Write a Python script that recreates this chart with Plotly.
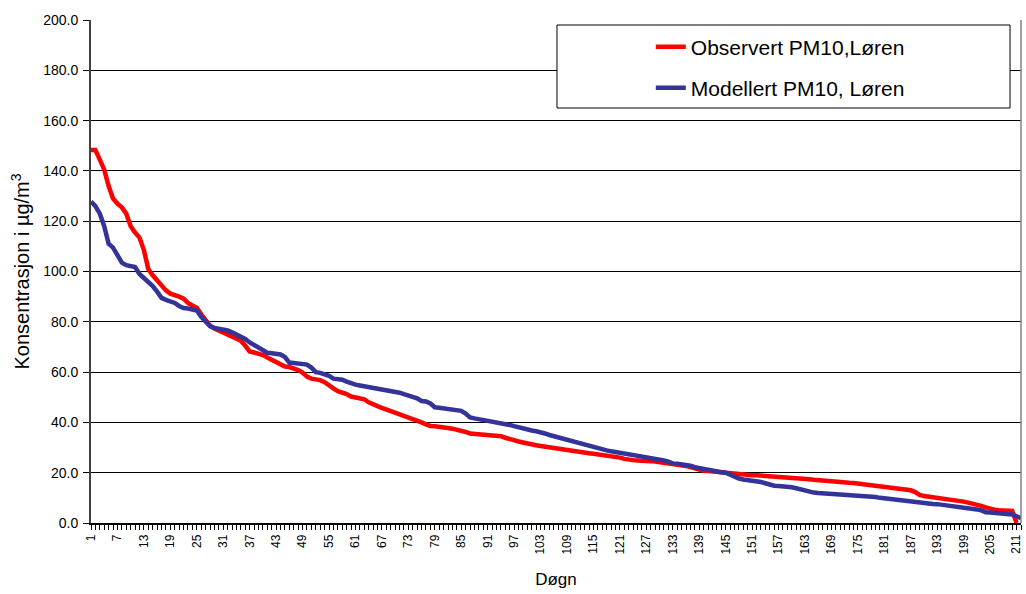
import plotly.graph_objects as go

# Day index (sorted duration curve), 1..212
days = list(range(1, 213))

# Observed PM10 at Løren, sorted descending (µg/m3)
observed = [
    148.3, 148.3, 144.5, 140.5, 134.0, 129.0, 127.0, 125.5, 123.0, 118.0,
    115.5, 113.5, 108.5, 101.0, 98.5, 96.3, 94.6, 92.5, 91.2, 90.8,
    90.0, 89.2, 87.5, 86.5, 85.6, 83.0, 80.5, 78.5, 77.3, 76.5,
    75.8, 75.0, 74.3, 73.5, 72.5, 70.5, 68.2, 67.8, 67.5, 66.8,
    65.8, 65.0, 64.2, 63.4, 62.2, 62.0, 61.6, 60.8, 59.8, 58.2,
    57.4, 57.2, 56.8, 56.0, 55.0, 53.5, 52.4, 51.9, 51.3, 50.3,
    49.8, 49.5, 49.2, 48.0, 47.0, 46.5, 45.8, 45.2, 44.6, 44.0,
    43.3, 42.7, 41.8, 41.2, 40.6, 40.0, 39.2, 38.6, 38.5, 38.4,
    38.2, 37.8, 37.5, 37.2, 36.8, 36.2, 35.6, 35.4, 35.3, 35.2,
    35.1, 35.0, 34.8, 34.5, 33.9, 33.3, 32.8, 32.4, 32.0, 31.5,
    31.2, 30.9, 30.6, 30.3, 30.1, 29.8, 29.5, 29.1, 28.8, 28.6,
    28.4, 28.1, 27.9, 27.7, 27.5, 27.3, 27.0, 26.7, 26.4, 26.2,
    26.0, 25.5, 25.1, 25.0, 24.9, 24.9, 24.8, 24.6, 24.4, 24.2,
    24.0, 23.8, 23.4, 23.2, 23.0, 22.7, 22.2, 21.7, 21.2, 20.8,
    20.7, 20.5, 20.4, 20.3, 20.1, 19.9, 19.7, 19.5, 19.3, 19.1,
    19.0, 19.0, 18.9, 18.8, 18.7, 18.6, 18.5, 18.3, 18.1, 18.0,
    17.9, 17.7, 17.5, 17.4, 17.2, 17.0, 16.8, 16.6, 16.4, 16.3,
    16.3, 16.1, 16.0, 15.9, 15.7, 15.5, 15.3, 15.1, 14.9, 14.7,
    14.5, 14.2, 14.0, 13.8, 13.5, 13.3, 13.0, 12.3, 11.2, 10.7,
    10.5, 10.3, 10.1, 9.9, 9.6, 9.3, 9.1, 8.9, 8.5, 8.1,
    7.8, 7.4, 6.8, 6.2, 5.6, 5.3, 5.1, 5.0, 4.9, 4.8,
    0.0, None,
]

# Modelled PM10 at Løren, sorted descending (µg/m3)
modelled = [
    127.8, 126.0, 123.0, 118.0, 111.0, 109.5, 106.5, 103.5, 102.5, 102.2,
    101.8, 99.0, 97.5, 95.5, 94.2, 92.0, 89.5, 88.7, 88.2, 87.5,
    86.3, 85.5, 85.3, 85.0, 84.5, 82.0, 80.0, 78.3, 77.5, 77.2,
    76.9, 76.6, 75.8, 75.0, 74.0, 73.2, 71.8, 70.8, 69.5, 68.3,
    67.7, 67.5, 67.2, 67.0, 66.0, 63.8, 63.6, 63.4, 63.2, 63.0,
    61.8, 60.0, 59.7, 59.3, 58.5, 57.4, 57.2, 57.0, 56.2, 55.4,
    55.0, 54.7, 54.4, 54.2, 53.9, 53.6, 53.3, 53.0, 52.8, 52.3,
    51.8, 51.2, 50.7, 50.2, 49.6, 48.5, 48.3, 47.5, 46.0, 45.8,
    45.6, 45.4, 45.1, 44.8, 44.6, 43.5, 42.0, 41.6, 41.3, 41.1,
    40.8, 40.5, 40.2, 39.8, 39.4, 39.0, 38.5, 38.0, 37.6, 37.2,
    36.8, 36.5, 36.2, 35.6, 35.0, 34.5, 34.1, 33.6, 33.0, 32.6,
    32.2, 31.8, 31.2, 30.7, 30.2, 29.8, 29.4, 28.9, 28.5, 28.2,
    28.0, 27.7, 27.4, 27.3, 27.1, 26.8, 26.4, 25.9, 25.6, 25.2,
    24.9, 24.4, 23.7, 23.6, 23.4, 23.3, 22.8, 22.2, 21.8, 21.4,
    21.1, 20.8, 20.5, 20.2, 20.0, 19.2, 18.4, 17.7, 17.3, 17.1,
    16.8, 16.6, 16.3, 15.8, 15.1, 14.8, 14.7, 14.6, 14.5, 14.2,
    13.8, 13.3, 12.8, 12.4, 12.1, 11.9, 11.8, 11.7, 11.6, 11.5,
    11.5, 11.3, 11.1, 11.1, 11.1, 10.9, 10.7, 10.5, 10.3, 10.0,
    9.8, 9.6, 9.4, 9.1, 8.9, 8.6, 8.3, 8.0, 7.8, 7.7,
    7.6, 7.6, 7.5, 7.3, 7.1, 6.8, 6.5, 6.2, 5.9, 5.7,
    5.6, 5.4, 5.0, 4.3, 4.2, 4.0, 3.9, 3.8, 3.7, 3.4,
    2.7, 1.9,
]

x_tick_days = list(range(1, 212, 6))
y_ticks = [0, 20, 40, 60, 80, 100, 120, 140, 160, 180, 200]

FONT = "Liberation Sans, Arial, sans-serif"

fig = go.Figure()
fig.add_trace(go.Scatter(
    x=days, y=observed, mode="lines", name="Observert PM10,Løren",
    line=dict(color="#FF0000", width=4.5), legend="legend",
))
fig.add_trace(go.Scatter(
    x=days, y=modelled, mode="lines", name="Modellert PM10, Løren",
    line=dict(color="#333399", width=4.5), legend="legend2",
))

# white legend frame
fig.add_shape(type="rect", xref="paper", yref="paper",
              x0=(558 - 91) / 932, x1=(1012 - 91) / 932,
              y0=(523 - 108) / 503, y1=(523 - 25) / 503,
              fillcolor="white", line=dict(color="black", width=1), layer="above")
# right edge of plot area
fig.add_shape(type="line", xref="paper", yref="paper", x0=1, x1=1, y0=0, y1=1,
              line=dict(color="#808080", width=1.5), layer="above")

legend_common = dict(
    bgcolor="rgba(0,0,0,0)", borderwidth=0, font=dict(family=FONT, size=21, color="black"),
    xanchor="left", yanchor="middle", itemwidth=30,
)
fig.update_layout(
    width=1026, height=594,
    margin=dict(l=91, r=3, t=20, b=71),
    paper_bgcolor="white", plot_bgcolor="white",
    font=dict(family=FONT, color="black"),
    legend=dict(x=(652 - 91) / 932, y=(523 - 47) / 503, **legend_common),
    legend2=dict(x=(652 - 91) / 932, y=(523 - 88) / 503, **legend_common),
    showlegend=True,
)
fig.update_xaxes(
    range=[1, 212], tickmode="array", tickvals=x_tick_days,
    ticktext=[str(d) for d in x_tick_days], tickangle=-90,
    tickfont=dict(family=FONT, size=12, color="black"),
    ticks="outside", ticklen=5, tickcolor="black",
    minor=dict(dtick=1, tick0=1, ticks="outside", ticklen=5, tickcolor="black"),
    showline=True, linecolor="black", linewidth=1.5, showgrid=False, zeroline=False,
    title=dict(text="Døgn", font=dict(family=FONT, size=17, color="black"), standoff=20),
)
fig.update_yaxes(
    range=[0, 200], tickmode="array", tickvals=y_ticks,
    ticktext=[f"{v:.1f}" for v in y_ticks],
    tickfont=dict(family=FONT, size=14, color="black"),
    ticks="outside", ticklen=6, tickcolor="black", ticklabelstandoff=2,
    showline=True, linecolor="#404040", linewidth=2,
    showgrid=True, gridcolor="black", gridwidth=1, zeroline=False,
    title=dict(text="Konsentrasjon i µg/m<sup>3</sup>", font=dict(family=FONT, size=20, color="black"), standoff=8),
)

fig.write_html("out.html")
